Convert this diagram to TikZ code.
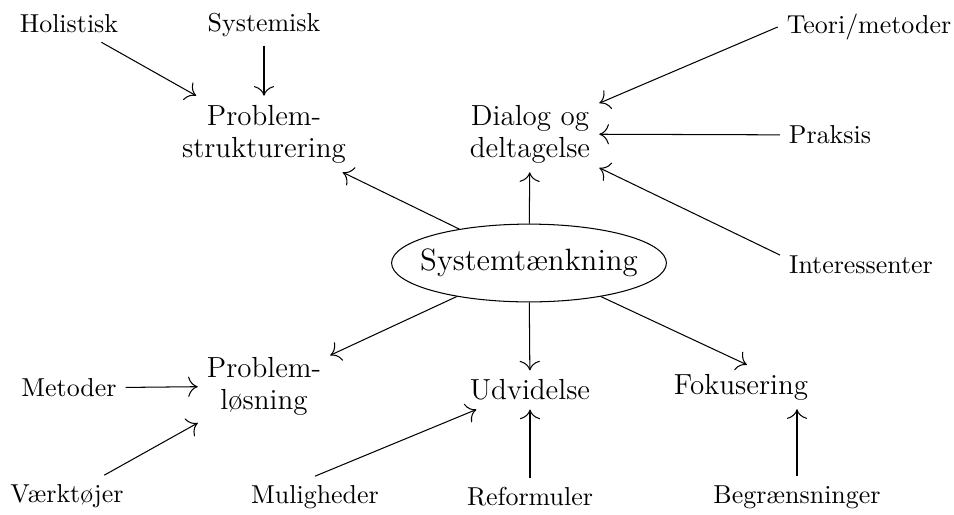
\documentclass[tikz,border=0pt]{standalone}
\usetikzlibrary{shapes.geometric,arrows.meta}
\begin{document}
\begin{tikzpicture}[x=0.3857pt,y=-0.3857pt,>={To[scale=1.5]},
    hub/.style={ellipse,draw,inner xsep=-10pt,inner ysep=0pt,minimum width=106pt,minimum height=30pt,
      font=\fontsize{11.9}{14}\selectfont},
    topic/.style={align=center,font=\fontsize{11.2}{12.4}\selectfont},
    factor/.style={font=\normalsize}]

  \useasboundingbox (0,0) rectangle (954,514);

  \node[hub] (sys) at (529,263) {Systemtænkning};

  \begin{scope}[every node/.style={topic}]
    \node (ps)  at (264,134) {Problem-\\strukturering};
    \node (dia) at (530,134) {Dialog og\\deltagelse};
    \node (pl)  at (264,386) {Problem-\\løsning};
    \node (udv) at (530,390) {Udvidelse};
    \node (fok) at (741,387) {Fokusering};
  \end{scope}

  \begin{scope}[every node/.style={factor}]
    \node (hol)  at (69,24)   {Holistisk};
    \node (syst) at (264,25)  {Systemisk};
    \node (teo)  at (869,27)  {Teori/metoder};
    \node (pra)  at (830,135) {Praksis};
    \node (int)  at (861,265) {Interessenter};
    \node (met)  at (69,388)  {Metoder};
    \node (vae)  at (67,496)  {Værktøjer};
    \node (mul)  at (315,497) {Muligheder};
    \node (ref)  at (530,497) {Reformuler};
    \node (beg)  at (797,497) {Begrænsninger};
  \end{scope}

  \begin{scope}[every path/.style={draw,->}]
    \path (sys) -- (ps);
    \path (sys) -- (dia);
    \path (sys) -- (pl);
    \path (sys) -- (udv);
    \path (sys) -- (fok.75);

    \path (hol)  -- (ps);
    \path (syst) -- (ps);
    \path (teo.west) -- (dia.24);
    \path (pra)  -- (dia);
    \path (int.173) -- (dia.-26);
    \path (met)  -- (pl);
    \path (vae)  -- (pl);
    \path (mul.north) -- (udv.200);
    \path (ref)  -- (udv);
    \path (beg)  -- (beg |- fok.south);
  \end{scope}

\end{tikzpicture}
\end{document}
